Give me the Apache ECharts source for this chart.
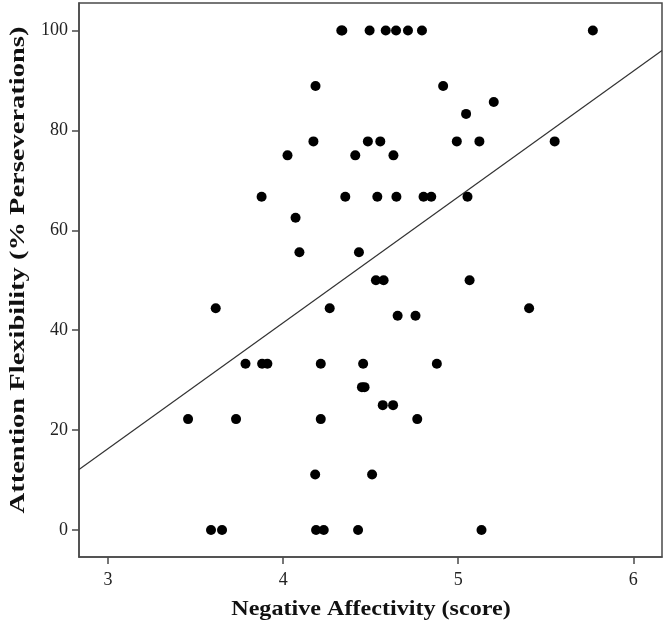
<!DOCTYPE html>
<html>
<head>
<meta charset="utf-8">
<script src="https://cdn.jsdelivr.net/npm/echarts@6/dist/echarts.min.js"></script>
<style>
html,body{margin:0;padding:0;background:#fff;}
#chart{width:666px;height:631px;}
</style>
</head>
<body>
<div id="chart"></div>
<script>
// Negative Affectivity (score)
var naScore = [
  4.332, 4.338, 4.494, 4.586, 4.645, 4.713, 4.793, 5.769,
  4.185, 4.914,
  5.203,
  5.045,
  4.173, 4.484, 4.555, 4.992, 5.121, 5.551,
  4.025, 4.412, 4.630,
  3.877, 4.355, 4.538, 4.647, 4.802, 4.846, 5.053,
  4.071,
  4.093, 4.433,
  4.530, 4.574, 5.065,
  3.615, 4.266, 5.405,
  4.654, 4.756,
  3.785, 3.88, 3.91, 4.215, 4.457, 4.878,
  4.45, 4.465,
  4.569, 4.628,
  3.457, 3.731, 4.215, 4.766,
  4.183, 4.508,
  3.588, 3.651, 4.188, 4.232, 4.428, 5.133
];
// Attention Flexibility (% Perseverations)
var perseverations = [
  100, 100, 100, 100, 100, 100, 100, 100,
  88.9, 88.9,
  85.7,
  83.3,
  77.8, 77.8, 77.8, 77.8, 77.8, 77.8,
  75, 75, 75,
  66.7, 66.7, 66.7, 66.7, 66.7, 66.7, 66.7,
  62.5,
  55.6, 55.6,
  50, 50, 50,
  44.4, 44.4, 44.4,
  42.9, 42.9,
  33.3, 33.3, 33.3, 33.3, 33.3, 33.3,
  28.6, 28.6,
  25, 25,
  22.2, 22.2, 22.2, 22.2,
  11.1, 11.1,
  0, 0, 0, 0, 0, 0
];
// fitted line (at the axis edges)
var fitX = [2.834, 6.164];
var fitY = [12.1, 96.0];

var xTicks = [3, 4, 5, 6];
var yTicks = [0, 20, 40, 60, 80, 100];
var xTitle = 'Negative Affectivity (score)';
var yTitle = 'Attention Flexibility (% Perseverations)';

var points = naScore.map(function (x, i) { return [x, perseverations[i]]; });
var fitLine = fitX.map(function (x, i) { return [x, fitY[i]]; });

var FONT = '"Liberation Serif", "Times New Roman", serif';
var AXIS_COLOR = '#4a4a4a';

var chart = echarts.init(document.getElementById('chart'), null, {renderer: 'canvas'});
chart.setOption({
  animation: false,
  backgroundColor: '#ffffff',
  grid: {
    left: 79, right: 4, top: 3, bottom: 74,
    show: true, borderColor: AXIS_COLOR, borderWidth: 1.5,
    containLabel: false
  },
  xAxis: {
    type: 'value',
    min: fitX[0], max: fitX[1],
    axisLine: {show: true, onZero: false, lineStyle: {color: AXIS_COLOR, width: 1.5}},
    axisTick: {show: true, length: 7, customValues: xTicks, lineStyle: {color: AXIS_COLOR, width: 1.5}},
    axisLabel: {customValues: xTicks, margin: 14, fontFamily: FONT, fontSize: 18, color: '#222'},
    splitLine: {show: false}
  },
  yAxis: {
    type: 'value',
    min: -5.4, max: 105.5,
    axisLine: {show: true, onZero: false, lineStyle: {color: AXIS_COLOR, width: 1.5}},
    axisTick: {show: true, length: 7, customValues: yTicks, lineStyle: {color: AXIS_COLOR, width: 1.5}},
    axisLabel: {customValues: yTicks, margin: 11, fontFamily: FONT, fontSize: 18, color: '#222'},
    splitLine: {show: false}
  },
  graphic: [
    {
      type: 'text', x: 371, y: 610, scaleX: 1.27, scaleY: 1.05,
      style: {text: xTitle, x: 0, y: 0, align: 'center', verticalAlign: 'middle',
              font: 'bold 19px ' + FONT, fill: '#111'}
    },
    {
      type: 'text', x: 19, y: 270, rotation: Math.PI / 2, scaleX: 1.5, scaleY: 1.08,
      style: {text: yTitle, x: 0, y: 0, align: 'center', verticalAlign: 'middle',
              font: 'bold 19px ' + FONT, fill: '#111'}
    }
  ],
  series: [
    {
      type: 'line',
      data: fitLine,
      symbol: 'none',
      lineStyle: {color: '#333', width: 1.2},
      silent: true,
      z: 1
    },
    {
      type: 'scatter',
      data: points,
      symbol: 'circle',
      symbolSize: 10,
      itemStyle: {color: '#000', opacity: 1},
      z: 2
    }
  ]
});
</script>
</body>
</html>
